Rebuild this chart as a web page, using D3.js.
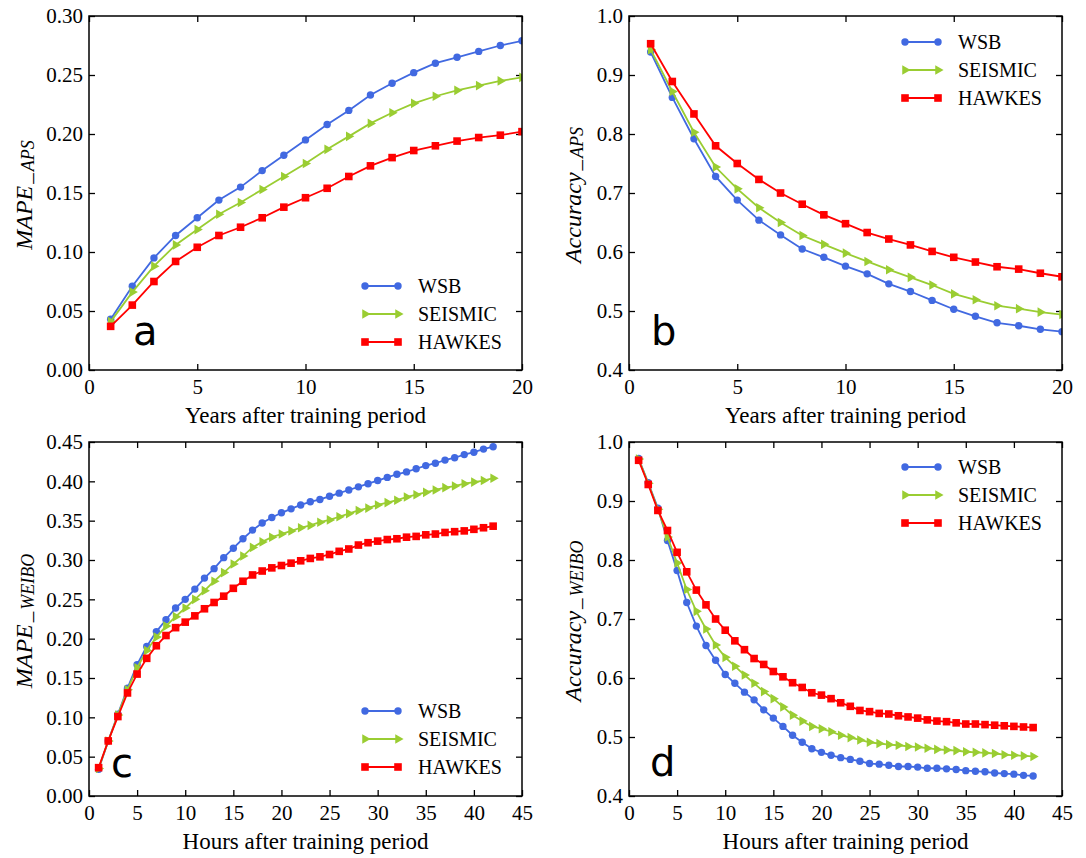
<!DOCTYPE html>
<html>
<head>
<meta charset="utf-8">
<script src="https://cdn.jsdelivr.net/npm/d3@7.9.0/dist/d3.min.js"></script>
<style>
  html, body { margin: 0; padding: 0; background: #fff; }
  svg { display: block; }
</style>
</head>
<body>
<svg id="chart" width="1086" height="858"></svg>
<script>
// series
const seriesNames = ['WSB', 'SEISMIC', 'HAWKES'];
const seriesColors = ['#4169e1', '#9acd32', '#ff0000'];
const seriesShapes = ['circle', 'triangle', 'square'];

// x values
const years = [1, 2, 3, 4, 5, 6, 7, 8, 9, 10, 11, 12, 13, 14, 15, 16, 17, 18, 19, 20];
const hours = [1, 2, 3, 4, 5, 6, 7, 8, 9, 10, 11, 12, 13, 14, 15, 16, 17, 18, 19, 20, 21,
  22, 23, 24, 25, 26, 27, 28, 29, 30, 31, 32, 33, 34, 35, 36, 37, 38, 39, 40, 41, 42];

// (a) MAPE, APS
const apsMapeWsb = [0.043, 0.071, 0.095, 0.114, 0.129, 0.144, 0.155, 0.169, 0.182, 0.195,
  0.208, 0.220, 0.233, 0.243, 0.252, 0.260, 0.265, 0.270, 0.275, 0.279];
const apsMapeSeismic = [0.041, 0.066, 0.088, 0.106, 0.119, 0.132, 0.142, 0.153, 0.164, 0.175,
  0.187, 0.198, 0.209, 0.218, 0.226, 0.232, 0.237, 0.241, 0.245, 0.248];
const apsMapeHawkes = [0.037, 0.055, 0.075, 0.092, 0.104, 0.114, 0.121, 0.129, 0.138, 0.146,
  0.154, 0.164, 0.173, 0.180, 0.186, 0.190, 0.194, 0.197, 0.199, 0.202];

// (b) accuracy, APS
const apsAccWsb = [0.939, 0.862, 0.792, 0.728, 0.688, 0.654, 0.629, 0.605, 0.591, 0.576,
  0.563, 0.546, 0.533, 0.518, 0.503, 0.491, 0.480, 0.475, 0.469, 0.465];
const apsAccSeismic = [0.943, 0.872, 0.803, 0.744, 0.707, 0.675, 0.650, 0.628, 0.613, 0.598,
  0.584, 0.570, 0.557, 0.544, 0.529, 0.519, 0.509, 0.504, 0.498, 0.494];
const apsAccHawkes = [0.953, 0.889, 0.834, 0.780, 0.750, 0.723, 0.700, 0.681, 0.663, 0.648,
  0.633, 0.622, 0.612, 0.601, 0.591, 0.583, 0.575, 0.571, 0.564, 0.558];

// (c) MAPE, Weibo
const weiboMapeWsb = [0.034, 0.070, 0.104, 0.137, 0.167, 0.190, 0.209, 0.224, 0.239, 0.250,
  0.263, 0.277, 0.289, 0.303, 0.315, 0.327, 0.338, 0.347, 0.354, 0.360, 0.365, 0.370, 0.374,
  0.377, 0.381, 0.385, 0.389, 0.393, 0.397, 0.401, 0.405, 0.409, 0.412, 0.416, 0.420, 0.423,
  0.427, 0.430, 0.434, 0.437, 0.441, 0.444];
const weiboMapeSeismic = [0.035, 0.070, 0.103, 0.135, 0.163, 0.185, 0.202, 0.216, 0.228, 0.239,
  0.250, 0.261, 0.273, 0.284, 0.295, 0.305, 0.316, 0.323, 0.329, 0.333, 0.337, 0.341, 0.344,
  0.348, 0.351, 0.355, 0.359, 0.363, 0.366, 0.370, 0.373, 0.376, 0.380, 0.383, 0.386, 0.389,
  0.392, 0.394, 0.397, 0.399, 0.401, 0.404];
const weiboMapeHawkes = [0.036, 0.070, 0.101, 0.131, 0.155, 0.175, 0.191, 0.204, 0.214, 0.221,
  0.229, 0.238, 0.246, 0.254, 0.264, 0.273, 0.281, 0.286, 0.290, 0.293, 0.296, 0.299, 0.302,
  0.304, 0.307, 0.311, 0.314, 0.319, 0.322, 0.324, 0.326, 0.327, 0.329, 0.330, 0.332, 0.333,
  0.335, 0.336, 0.337, 0.339, 0.341, 0.343];

// (d) accuracy, Weibo
const weiboAccWsb = [0.972, 0.931, 0.888, 0.833, 0.782, 0.728, 0.688, 0.655, 0.630, 0.606,
  0.591, 0.576, 0.563, 0.546, 0.532, 0.518, 0.503, 0.491, 0.480, 0.474, 0.469, 0.465, 0.462,
  0.459, 0.455, 0.454, 0.452, 0.450, 0.450, 0.449, 0.447, 0.447, 0.446, 0.445, 0.443, 0.442,
  0.441, 0.439, 0.438, 0.437, 0.435, 0.434];
const weiboAccSeismic = [0.971, 0.930, 0.886, 0.839, 0.795, 0.750, 0.713, 0.683, 0.656, 0.635,
  0.620, 0.605, 0.591, 0.577, 0.565, 0.551, 0.537, 0.527, 0.518, 0.514, 0.509, 0.503, 0.499,
  0.495, 0.491, 0.489, 0.487, 0.486, 0.484, 0.483, 0.481, 0.479, 0.478, 0.477, 0.475, 0.474,
  0.473, 0.472, 0.470, 0.469, 0.468, 0.467];
const weiboAccHawkes = [0.969, 0.928, 0.884, 0.850, 0.813, 0.780, 0.749, 0.724, 0.700, 0.681,
  0.663, 0.648, 0.633, 0.623, 0.611, 0.602, 0.592, 0.584, 0.575, 0.571, 0.565, 0.558, 0.552,
  0.545, 0.543, 0.540, 0.539, 0.536, 0.534, 0.532, 0.529, 0.527, 0.526, 0.524, 0.522, 0.522,
  0.521, 0.520, 0.519, 0.518, 0.517, 0.516];

// ticks
const yearTicks = [0, 5, 10, 15, 20];
const hourTicks = [0, 5, 10, 15, 20, 25, 30, 35, 40, 45];
const mapeApsTicks = [0, 0.05, 0.10, 0.15, 0.20, 0.25, 0.30];
const mapeWeiboTicks = [0, 0.05, 0.10, 0.15, 0.20, 0.25, 0.30, 0.35, 0.40, 0.45];
const accTicks = [0.4, 0.5, 0.6, 0.7, 0.8, 0.9, 1.0];

const SERIF = '"Liberation Serif", "Times New Roman", serif';
const svg = d3.select('#chart');

const panels = [
  { id: 'a', box: [89, 16, 522, 370], x: years, xTicks: yearTicks, yTicks: mapeApsTicks,
    fmt: '.2f', xLabel: 'Years after training period', yMain: 'MAPE', ySub: 'APS',
    ys: [apsMapeWsb, apsMapeSeismic, apsMapeHawkes], labelX: 32,
    letter: [133, 345], legend: [365, 286] },
  { id: 'b', box: [629, 16, 1062, 370], x: years, xTicks: yearTicks, yTicks: accTicks,
    fmt: '.1f', xLabel: 'Years after training period', yMain: 'Accuracy', ySub: 'APS',
    ys: [apsAccWsb, apsAccSeismic, apsAccHawkes], labelX: 581,
    letter: [651, 345], legend: [905, 42] },
  { id: 'c', box: [89, 442, 522, 796], x: hours, xTicks: hourTicks, yTicks: mapeWeiboTicks,
    fmt: '.2f', xLabel: 'Hours after training period', yMain: 'MAPE', ySub: 'WEIBO',
    ys: [weiboMapeWsb, weiboMapeSeismic, weiboMapeHawkes], labelX: 32,
    letter: [111, 777], legend: [365, 711] },
  { id: 'd', box: [629, 442, 1062, 796], x: hours, xTicks: hourTicks, yTicks: accTicks,
    fmt: '.1f', xLabel: 'Hours after training period', yMain: 'Accuracy', ySub: 'WEIBO',
    ys: [weiboAccWsb, weiboAccSeismic, weiboAccHawkes], labelX: 581,
    letter: [650, 776], legend: [905, 467] }
];

function marker(sel, shape, color) {
  if (shape === 'circle') {
    sel.append('circle').attr('r', 3.7).attr('fill', color);
  } else if (shape === 'square') {
    sel.append('rect').attr('x', -3.8).attr('y', -3.8).attr('width', 7.6).attr('height', 7.6)
      .attr('fill', color);
  } else {
    sel.append('path').attr('d', d3.symbol(d3.symbolTriangle, 40)())
      .attr('transform', 'rotate(90)').attr('fill', color);
  }
}

function styleAxis(g) {
  g.select('.domain').remove();
  g.selectAll('line').attr('stroke', '#000').attr('stroke-width', 1.3);
  g.attr('font-family', SERIF).attr('font-size', 21);
  g.selectAll('text').attr('fill', '#000')
    .style('font-family', SERIF).style('font-size', '21px');
}

panels.forEach(p => {
  const [x0, y0, x1, y1] = p.box;
  const x = d3.scaleLinear().domain(d3.extent(p.xTicks)).range([x0, x1]);
  const y = d3.scaleLinear().domain(d3.extent(p.yTicks)).range([y1, y0]);
  const g = svg.append('g');

  g.append('defs').append('clipPath').attr('id', 'clip-' + p.id)
    .append('rect').attr('x', x0).attr('y', y0).attr('width', x1 - x0).attr('height', y1 - y0);

  g.append('g').attr('transform', `translate(0,${y1})`)
    .call(d3.axisBottom(x).tickValues(p.xTicks).tickSize(-6).tickPadding(9).tickFormat(d3.format('d')))
    .call(styleAxis);
  g.append('g').attr('transform', `translate(0,${y0})`)
    .call(d3.axisTop(x).tickValues(p.xTicks).tickSize(-6).tickFormat(''))
    .call(styleAxis);
  g.append('g').attr('transform', `translate(${x0},0)`)
    .call(d3.axisLeft(y).tickValues(p.yTicks).tickSize(-6).tickPadding(6).tickFormat(d3.format(p.fmt)))
    .call(styleAxis);
  g.append('g').attr('transform', `translate(${x1},0)`)
    .call(d3.axisRight(y).tickValues(p.yTicks).tickSize(-6).tickFormat(''))
    .call(styleAxis);

  const plot = g.append('g').attr('clip-path', `url(#clip-${p.id})`);
  const line = d3.line().x((d, i) => x(p.x[i])).y(d => y(d));
  p.ys.forEach((vals, si) => {
    plot.append('path').datum(vals).attr('d', line)
      .attr('fill', 'none').attr('stroke', seriesColors[si]).attr('stroke-width', 1.8);
    plot.selectAll(null).data(vals).join('g')
      .attr('transform', (d, i) => `translate(${x(p.x[i])},${y(d)})`)
      .each(function () { marker(d3.select(this), seriesShapes[si], seriesColors[si]); });
  });

  g.append('rect').attr('x', x0).attr('y', y0).attr('width', x1 - x0).attr('height', y1 - y0)
    .attr('fill', 'none').attr('stroke', '#000').attr('stroke-width', 1.5);

  // axis titles
  g.append('text').attr('x', (x0 + x1) / 2).attr('y', y1 + 53)
    .attr('text-anchor', 'middle')
    .style('font-family', SERIF).style('font-size', '23px').text(p.xLabel);
  const yl = g.append('text')
    .attr('transform', `translate(${p.labelX},${(y0 + y1) / 2 + 2}) rotate(-90)`)
    .attr('text-anchor', 'middle')
    .style('font-family', SERIF).style('font-style', 'italic').style('font-size', '24px');
  yl.append('tspan').text(p.yMain);
  yl.append('tspan').attr('dx', 2).attr('dy', -1).style('font-size', '21px').text('_');
  yl.append('tspan').attr('dx', 2).attr('dy', 3).style('font-size', '18px').text(p.ySub);

  // panel letter
  g.append('text').attr('x', p.letter[0]).attr('y', p.letter[1])
    .style('font-family', '"DejaVu Sans", sans-serif').style('font-size', '40px').text(p.id);

  // legend
  const [lx, ly] = p.legend;
  seriesNames.forEach((name, si) => {
    const row = g.append('g').attr('transform', `translate(${lx},${ly + si * 28})`);
    row.append('line').attr('x1', 0).attr('x2', 33)
      .attr('stroke', seriesColors[si]).attr('stroke-width', 1.8);
    [0, 33].forEach(px => marker(row.append('g').attr('transform', `translate(${px},0)`),
      seriesShapes[si], seriesColors[si]));
    row.append('text').attr('x', 53).attr('dy', '0.35em')
      .style('font-family', SERIF).style('font-size', '20px').text(name);
  });
});
</script>
</body>
</html>
